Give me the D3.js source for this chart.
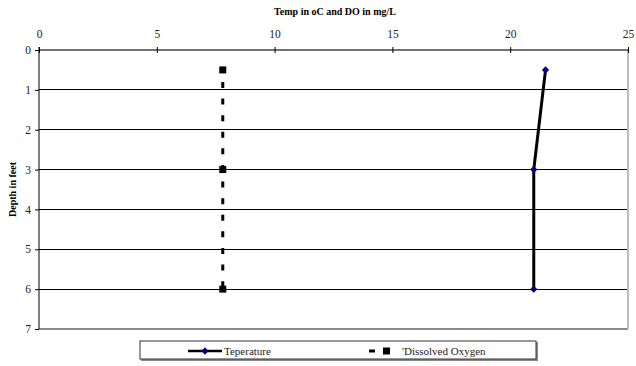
<!DOCTYPE html>
<html><head><meta charset="utf-8">
<script src="https://cdn.jsdelivr.net/npm/d3@7"></script>
<style>body{margin:0;background:#fff}svg{display:block}svg text{font-family:"Liberation Serif","DejaVu Serif",serif !important}</style>
</head><body>
<svg id="c" width="636" height="366"></svg>
<script>
const depths = [0.5, 3, 6];
const temperature = [21.5, 21, 21];
const dissolvedOxygen = [7.8, 7.8, 7.8];
const xTicks = [0, 5, 10, 15, 20, 25];
const yTicks = [0, 1, 2, 3, 4, 5, 6, 7];
const seriesNames = ["Teperature", "'Dissolved Oxygen"];
const xTitle = "Temp in oC and DO in mg/L";
const yTitle = "Depth in feet";

const SERIF = '"Liberation Serif","DejaVu Serif",serif';
const svg = d3.select("#c");
const L = 39, R = 628, T = 50, B = 329;
const x = d3.scaleLinear().domain([0, 25]).range([L, R]);
const y = d3.scaleLinear().domain([0, 7]).range([T, B]);

svg.append("g").selectAll("line").data(yTicks.filter(d => d > 0 && d < 7)).join("line")
  .attr("x1", L).attr("x2", R).attr("y1", d => y(d)).attr("y2", d => y(d))
  .attr("stroke", "#000").attr("stroke-width", 1).attr("shape-rendering", "crispEdges");
svg.append("line").attr("x1", L).attr("x2", R).attr("y1", y(7)).attr("y2", y(7))
  .attr("stroke", "#8a8a8a").attr("stroke-width", 2);
svg.append("line").attr("x1", R).attr("x2", R).attr("y1", T).attr("y2", B)
  .attr("stroke", "#bdbdbd").attr("stroke-width", 2);

const xa = svg.append("g").attr("transform", `translate(0,${T})`)
  .call(d3.axisTop(x).tickValues(xTicks).tickFormat(d3.format("d")).tickSize(3).tickPadding(9));
xa.attr("font-family", SERIF);
xa.select(".domain").attr("stroke", "#444").attr("stroke-width", 1.6).attr("d", `M${L},0H${R}`);
xa.selectAll(".tick line").attr("stroke", "#000").attr("y1", 3).attr("y2", -3);
xa.selectAll("text").attr("font-size", 11.5).attr("fill", "#222").style("font-family", SERIF);

const ya = svg.append("g").attr("transform", `translate(${L},0)`)
  .call(d3.axisLeft(y).tickValues(yTicks).tickFormat(d3.format("d")).tickSize(4).tickPadding(4));
ya.attr("font-family", SERIF);
ya.select(".domain").attr("stroke", "#000").attr("stroke-width", 1).attr("d", `M0,${T - 3}V${B}`);
ya.selectAll(".tick line").attr("stroke", "#000");
ya.selectAll("text").attr("font-size", 11.5).attr("fill", "#222").style("font-family", SERIF);

svg.append("text").attr("x", 335).attr("y", 15).attr("text-anchor", "middle").style("font-family", SERIF)
  .attr("font-size", 10).attr("font-weight", "bold").text(xTitle);
svg.append("text").attr("transform", `translate(16,${(T + B) / 2}) rotate(-90)`).style("font-family", SERIF)
  .attr("text-anchor", "middle").attr("font-size", 10).attr("font-weight", "bold").text(yTitle);

const line = d3.line().x(d => x(d[0])).y(d => y(d[1]));
const tData = temperature.map((v, i) => [v, depths[i]]);
const oData = dissolvedOxygen.map((v, i) => [v, depths[i]]);
svg.append("path").attr("d", line(oData)).attr("fill", "none").attr("stroke", "#000")
  .attr("stroke-width", 3).attr("stroke-dasharray", "6,10.6").attr("stroke-dashoffset", -12);
svg.append("g").selectAll("rect").data(oData).join("rect")
  .attr("x", d => x(d[0]) - 3.5).attr("y", d => y(d[1]) - 3.5).attr("width", 7).attr("height", 7).attr("fill", "#000");
svg.append("path").attr("d", line(tData)).attr("fill", "none").attr("stroke", "#000").attr("stroke-width", 3);
const diamond = d3.symbol().type(d3.symbolDiamond2).size(34);
svg.append("g").selectAll("path").data(tData).join("path")
  .attr("transform", d => `translate(${x(d[0])},${y(d[1])})`).attr("d", diamond).attr("fill", "#000080");

const lg = svg.append("g");
lg.append("rect").attr("x", 141).attr("y", 342).attr("width", 397).attr("height", 19).attr("fill", "#8a8a8a");
lg.append("rect").attr("x", 140).attr("y", 341).attr("width", 396).attr("height", 18)
  .attr("fill", "#fff").attr("stroke", "#333").attr("stroke-width", 1);
const ly = 351;
lg.append("line").attr("x1", 188).attr("x2", 222).attr("y1", ly).attr("y2", ly).attr("stroke", "#000").attr("stroke-width", 2.5);
lg.append("path").attr("transform", `translate(205,${ly})`).attr("d", diamond).attr("fill", "#000080");
lg.append("text").attr("x", 224).attr("y", ly + 4).attr("font-size", 11).attr("fill", "#222").style("font-family", SERIF).text(seriesNames[0]);
lg.append("line").attr("x1", 369).attr("x2", 375).attr("y1", ly).attr("y2", ly).attr("stroke", "#000").attr("stroke-width", 3);
lg.append("rect").attr("x", 383).attr("y", ly - 3.5).attr("width", 7).attr("height", 7).attr("fill", "#000");
lg.append("text").attr("x", 402).attr("y", ly + 4).attr("font-size", 11).attr("fill", "#222").style("font-family", SERIF).text(seriesNames[1]);
</script>
</body></html>
